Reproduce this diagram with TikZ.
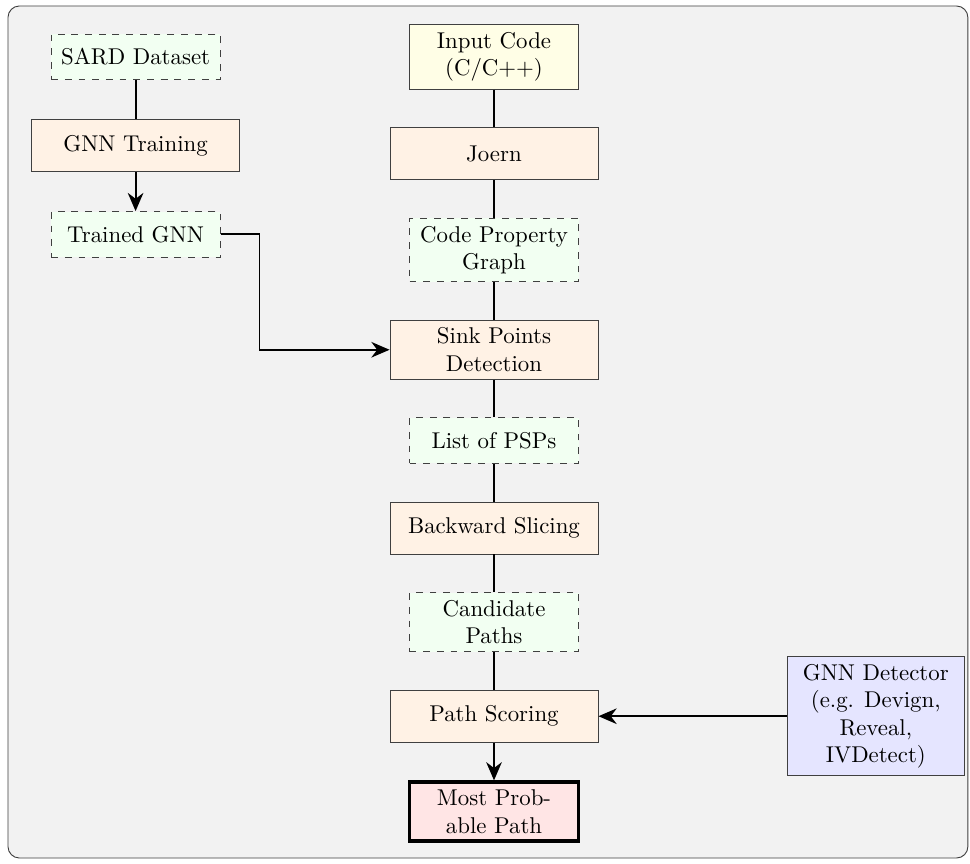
\documentclass[tikz,border=0pt]{standalone}
\usepackage{tikz}
\usetikzlibrary{positioning,calc,arrows.meta}

\begin{document}
\begin{tikzpicture}[
		proc/.style={draw=black!75,fill=orange!10,minimum width=3.2cm,minimum height=0.8cm,align=center},
		datab/.style={draw=black!75,dashed,fill=green!5,minimum width=2.6cm,minimum height=0.7cm,align=center},
		flow/.style={thick},
		tip/.style={-{Stealth[length=2.8mm,width=2.4mm,inset=0.9mm]}},
	]
		\useasboundingbox (0,0) rectangle (14.923,-13.292);
		\draw[black!75,fill=black!5,rounded corners=5pt] (0.123,-0.092) rectangle (14.89,-13.2);
		
		% main column
		\node[draw=black!75,fill=yellow!10,minimum width=2.6cm,minimum height=0.8cm,align=center] (input) at (7.6,-0.877) {Input Code\\(C/C++)};
		\node[proc,below=0.58cm of input] (joern) {Joern};
		\node[datab,below=0.58cm of joern] (cpg) {Code Property\\Graph};
		\node[proc,below=0.58cm of cpg] (sink) {Sink Points\\Detection};
		\node[datab,below=0.58cm of sink] (psp) {List of PSPs};
		\node[proc,below=0.58cm of psp] (slice) {Backward Slicing};
		\node[datab,below=0.58cm of slice] (cand) {Candidate\\Paths};
		\node[proc,below=0.58cm of cand] (score) {Path Scoring};
		\node[draw=black,ultra thick,fill=red!10,minimum width=2.6cm,align=center,below=0.58cm of score] (best) {Most Prob-\\able Path};
		
		% training column
		\node[datab,left=2.9cm of input] (sard) {SARD Dataset};
		\node[proc,below=0.6cm of sard] (train) {GNN Training};
		\node[datab,below=0.6cm of train] (gnn) {Trained GNN};
		
		\node[draw=black!75,fill=blue!10,minimum width=2.72cm,align=center,right=2.9cm of score] (det) {GNN Detector\\(e.g. Devign,\\Reveal,\\IVDetect)};
		
		\draw[flow] (sard)--(train);
		\draw[flow,tip] (train)--(gnn);
		\draw[flow,tip] (gnn.east)--++(0.6,0) |- (sink.west);
		\draw[flow] (input)--(joern);
		\draw[flow] (joern)--(cpg);
		\draw[flow] (cpg)--(sink);
		\draw[flow] (sink)--(psp);
		\draw[flow] (psp)--(slice);
		\draw[flow] (slice)--(cand);
		\draw[flow] (cand)--(score);
		\draw[flow,tip] (score)--(best);
		\draw[flow,tip] (det)--(score);
	\end{tikzpicture}
\end{document}
